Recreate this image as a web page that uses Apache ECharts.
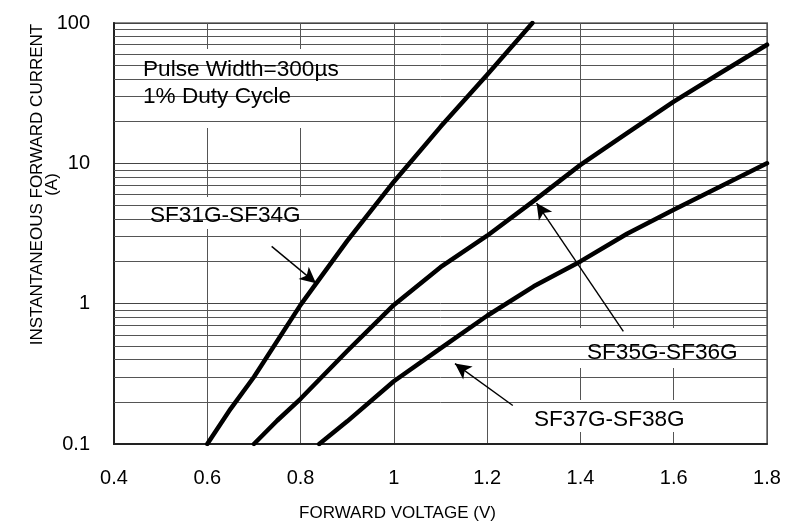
<!DOCTYPE html>
<html>
<head>
<meta charset="utf-8">
<script src="https://cdn.jsdelivr.net/npm/echarts@6/dist/echarts.min.js"></script>
<style>
html,body{margin:0;padding:0;background:#fff;}
#chart{width:800px;height:529px;}
</style>
</head>
<body>
<div id="chart"></div>
<script>
// ---- data ----
const voltage1 = [0.6, 0.65, 0.7, 0.8, 0.9, 1.0, 1.1, 1.2, 1.297];
const current1 = [0.1, 0.178, 0.3, 0.98, 2.8, 7.4, 18.2, 42.7, 100];

const voltage2 = [0.7, 0.75, 0.8, 0.9, 1.0, 1.1, 1.2, 1.3, 1.4, 1.5, 1.6, 1.7, 1.8];
const current2 = [0.1, 0.147, 0.21, 0.46, 0.98, 1.82, 3.05, 5.4, 9.75, 16.4, 27.5, 44, 70];

const voltage3 = [0.84, 0.9, 1.0, 1.1, 1.2, 1.3, 1.4, 1.5, 1.6, 1.7, 1.8];
const current3 = [0.1, 0.145, 0.28, 0.48, 0.82, 1.33, 2.0, 3.15, 4.67, 6.84, 10];

const xTickLabels = ['0.4', '0.6', '0.8', '1', '1.2', '1.4', '1.6', '1.8'];
const yTickLabels = ['0.1', '1', '10', '100'];
const minorGridValues = [0.2,0.3,0.4,0.5,0.6,0.7,0.8,0.9,2,3,4,5,6,7,8,9,20,30,40,50,60,70,80,90];

// arrow annotations [tail, tip] in data units
const arrow1 = [[0.738, 2.56], [0.833, 1.40]];
const arrow2 = [[1.492, 0.635], [1.306, 5.21]];
const arrow3 = [[1.255, 0.188], [1.131, 0.374]];

const seriesNames = ['SF31G-SF34G', 'SF35G-SF36G', 'SF37G-SF38G'];
const noteText = 'Pulse Width=300µs\n1% Duty Cycle';

// ---- build ----
const FONT = '"Liberation Sans", Arial, Helvetica, sans-serif';
const pairs = (xs, ys) => xs.map((x, i) => [x, ys[i]]);

const chart = echarts.init(document.getElementById('chart'), null, {renderer: 'canvas'});

const curveStyle = {
  type: 'line', showSymbol: false, symbol: 'none', z: 10,
  smooth: false,
  lineStyle: {color: '#000', width: 4.5, cap: 'round', join: 'round'},
  silent: true
};

function arrowLine(a) {
  return [{coord: a[0]}, {coord: a[1]}];
}

const option = {
  animation: false,
  backgroundColor: '#fff',
  grid: {
    left: 114, right: 33, top: 23, bottom: 85,
    show: true, borderColor: '#8a8a8a', borderWidth: 2, backgroundColor: 'transparent'
  },
  xAxis: {
    type: 'value', min: 0.4, max: 1.8, interval: 0.2,
    name: 'FORWARD VOLTAGE (V)', nameLocation: 'middle', nameGap: 61,
    nameTextStyle: {fontFamily: FONT, fontSize: 17, color: '#000', padding: [0, 86, 0, 0]},
    axisLine: {show: true, onZero: false, lineStyle: {color: '#222', width: 2}},
    axisTick: {show: false},
    axisLabel: {
      fontFamily: FONT, fontSize: 20, color: '#000', margin: 24,
      formatter: v => {
        const s = String(parseFloat(v.toFixed(2)));
        return xTickLabels.includes(s) ? s : '';
      }
    },
    splitLine: {show: true, lineStyle: {color: '#555', width: 1}}
  },
  yAxis: {
    type: 'log', logBase: 10, min: 0.1, max: 100,
    name: 'INSTANTANEOUS FORWARD CURRENT\n(A)', nameLocation: 'middle', nameGap: 54, nameRotate: 90,
    nameMoveOverlap: false,
    nameTextStyle: {fontFamily: FONT, fontSize: 17, color: '#000', lineHeight: 15, padding: [0, 0, 0, 98], align: 'center'},
    axisLine: {show: true, lineStyle: {color: '#222', width: 2}},
    axisTick: {show: false},
    axisLabel: {
      fontFamily: FONT, fontSize: 20, color: '#000', margin: 24,
      formatter: v => {
        const s = String(parseFloat(Number(v).toPrecision(4)));
        return yTickLabels.includes(s) ? s : '';
      }
    },
    splitLine: {show: true, lineStyle: {color: '#444', width: 1}}
  },
  graphic: [
    {type: 'rect', left: 136, top: 49, shape: {width: 220, height: 79}, style: {fill: '#fff'}, z: 5, silent: true},
    {type: 'text', left: 143, top: 56, z: 6, silent: true,
      style: {text: noteText, fontFamily: FONT, fontSize: 22.6, lineHeight: 27, fill: '#000'}},
    {type: 'rect', left: 120, top: 197, shape: {width: 212, height: 32}, style: {fill: '#fff'}, z: 5, silent: true},
    {type: 'text', left: 150, top: 204, z: 6, silent: true,
      style: {text: seriesNames[0], fontFamily: FONT, fontSize: 22.6, fill: '#000'}},
    {type: 'rect', left: 559, top: 328, shape: {width: 206, height: 40}, style: {fill: '#fff'}, z: 5, silent: true},
    {type: 'text', left: 587, top: 341, z: 6, silent: true,
      style: {text: seriesNames[1], fontFamily: FONT, fontSize: 22.6, fill: '#000'}},
    {type: 'rect', left: 515, top: 400, shape: {width: 188, height: 32}, style: {fill: '#fff'}, z: 5, silent: true},
    {type: 'text', left: 534, top: 408, z: 6, silent: true,
      style: {text: seriesNames[2], fontFamily: FONT, fontSize: 22.6, fill: '#000'}}
  ],
  series: [
    {
      type: 'line', data: [], z: 1, silent: true,
      markLine: {
        silent: true, symbol: ['none', 'none'], animation: false,
        label: {show: false},
        lineStyle: {color: '#555', width: 1, type: 'solid'},
        emphasis: {disabled: true},
        data: minorGridValues.map(v => ({yAxis: v}))
      }
    },
    Object.assign({}, curveStyle, {name: seriesNames[0], data: pairs(voltage1, current1)}),
    Object.assign({}, curveStyle, {name: seriesNames[1], data: pairs(voltage2, current2)}),
    Object.assign({}, curveStyle, {name: seriesNames[2], data: pairs(voltage3, current3),
      markLine: {
        silent: true, animation: false,
        symbol: ['none', 'arrow'], symbolSize: [12, 16],
        label: {show: false},
        lineStyle: {color: '#000', width: 1.4, type: 'solid'},
        emphasis: {disabled: true},
        data: [arrowLine(arrow1), arrowLine(arrow2), arrowLine(arrow3)]
      }
    })
  ]
};
chart.setOption(option);
</script>
</body>
</html>
